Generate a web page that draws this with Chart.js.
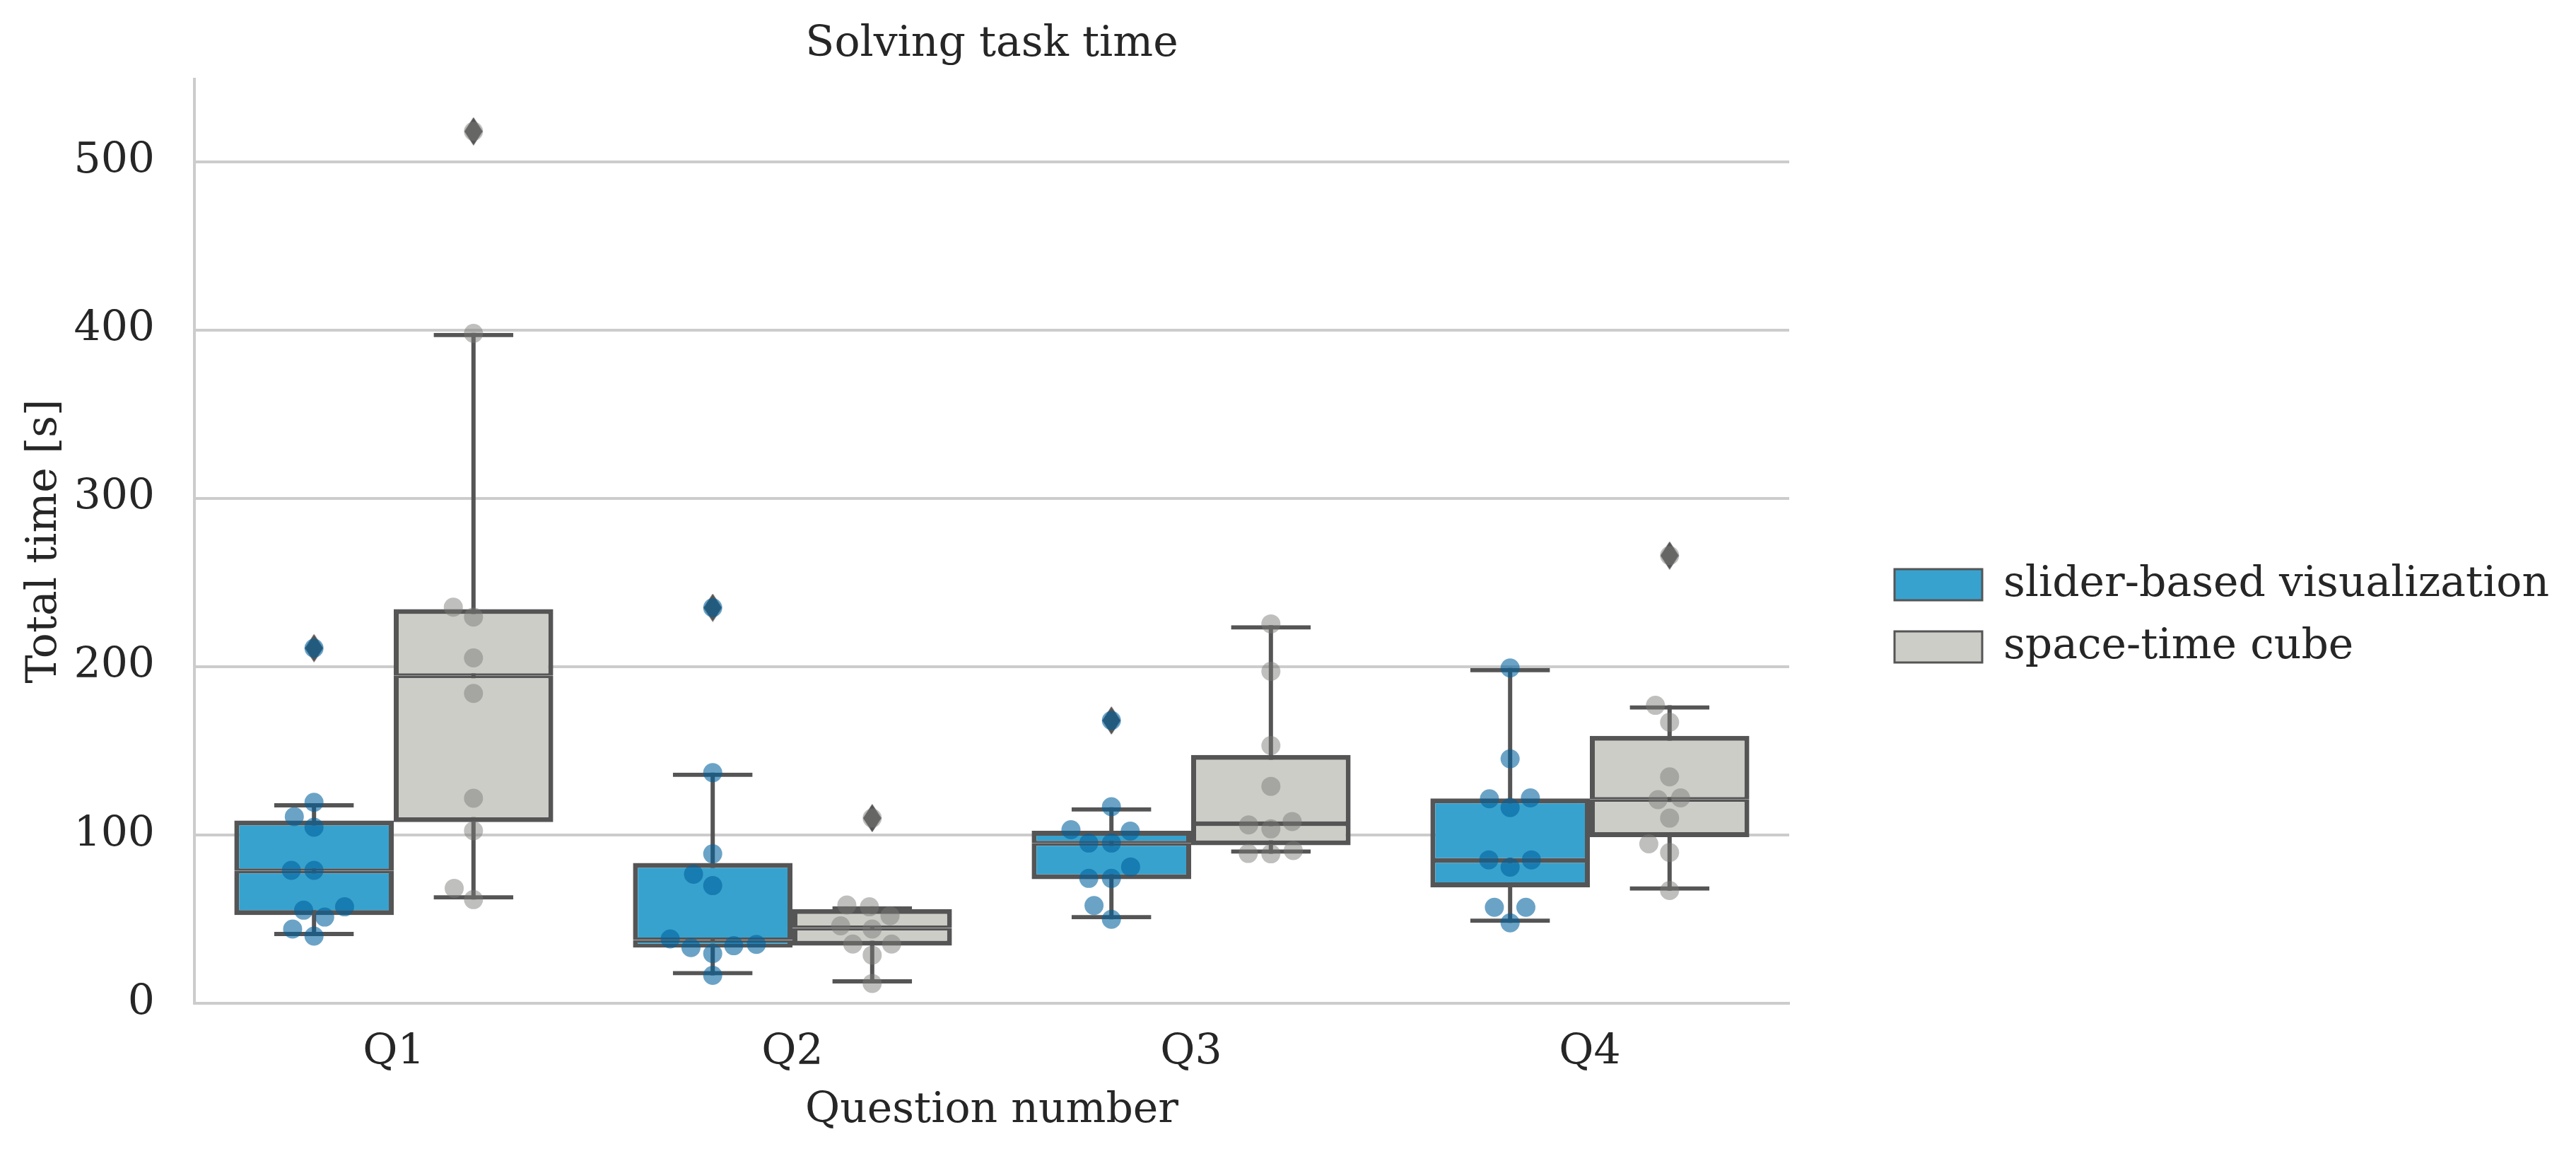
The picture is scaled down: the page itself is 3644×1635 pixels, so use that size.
<!DOCTYPE html>
<html>
<head>
<meta charset="utf-8">
<script src="https://cdn.jsdelivr.net/npm/chart.js@4.4.1/dist/chart.umd.min.js"></script>
<style>
html,body{margin:0;padding:0;background:#ffffff;}
canvas{display:block;}
</style>
</head>
<body>
<canvas id="c" width="3644" height="1635" style="width:3644px;height:1635px"></canvas>
<script>
// ---------------- data ----------------
const categories = ['Q1', 'Q2', 'Q3', 'Q4'];
const seriesNames = ['slider-based visualization', 'space-time cube'];
const chartTitle = 'Solving task time';
const xTitle = 'Question number';
const yTitle = 'Total time [s]';
const yMin = 0;
const yMax = 549;
const yStep = 100;

// slider-based visualization
const sliderQ1 = [52.4, 33.1, 73.7, 68.9];
const sliderMedian = [78.7, 37.6, 95.0, 84.9];
const sliderQ3 = [108.6, 83.4, 102.5, 121.7];
const sliderWhiskerLow = [39.9, 16.6, 49.9, 47.8];
const sliderWhiskerHigh = [118.9, 137.0, 116.5, 199.2];
const sliderOutliers = [[211], [235], [168], []];
const sliderPoints = [
  [119.4, 110.9, 104.6, 79.0, 79.0, 57.3, 55.3, 51.2, 44.1, 39.9, 211],
  [137.0, 88.8, 76.7, 69.9, 38.2, 33.1, 29.5, 34.2, 35.0, 16.6, 235],
  [116.8, 103.1, 102.3, 95.2, 95.2, 81.0, 74.2, 74.2, 58.1, 49.9, 168],
  [199.2, 145.2, 121.5, 122.0, 116.3, 85.2, 85.2, 80.9, 57.0, 57.0, 47.8]
];

// space-time cube
const cubeQ1 = [107.6, 34.2, 93.9, 98.7];
const cubeMedian = [194.6, 44.7, 106.7, 121.1];
const cubeQ3 = [234.2, 56.0, 147.5, 158.9];
const cubeWhiskerLow = [61.6, 11.8, 88.8, 66.9];
const cubeWhiskerHigh = [398.3, 57.6, 224.6, 177.0];
const cubeOutliers = [[518], [110], [], [266]];
const cubePoints = [
  [398.0, 235.3, 229.5, 205.2, 184.1, 121.8, 102.5, 68.3, 61.6, 518],
  [58.4, 57.3, 52.0, 46.0, 44.1, 35.2, 35.2, 28.6, 11.8, 110],
  [225.4, 197.2, 153.1, 128.9, 106.0, 103.6, 108.0, 89.0, 88.8, 90.7],
  [177.0, 167.0, 134.5, 121.0, 122.0, 110.0, 94.7, 89.6, 67.0, 266]
];

// ---------------- style ----------------
const W = 3644, H = 1635;
const FONT = "'DejaVu Serif', 'Liberation Serif', serif";
const FS = 60;
const TEXT = '#262626';
const LINE = '#555555';
const GRID = '#cccccc';
const BOX_SPAN = 0.8;                       // both boxes together span 0.8 of a category
const GROUP_OFF = [-BOX_SPAN / 4, BOX_SPAN / 4];
const LW = 7;
const SWARM_D = 30.5;
const POINT_R = 13.5;
const LEGEND_LEFT = 2652;
const Y_AXIS_W = 275;
const X_AXIS_H = 216;
const PLOT_RIGHT = 2531;

function diamondMarker() {
  const c = document.createElement('canvas');
  c.width = 26; c.height = 40;
  const g = c.getContext('2d');
  g.fillStyle = LINE;
  g.beginPath();
  g.moveTo(13, 0); g.lineTo(26, 20); g.lineTo(13, 40); g.lineTo(0, 20);
  g.closePath(); g.fill();
  return c;
}
const diamond = diamondMarker();

const groups = [
  {name: seriesNames[0], q1: sliderQ1, med: sliderMedian, q3: sliderQ3, lo: sliderWhiskerLow, hi: sliderWhiskerHigh,
   out: sliderOutliers, pts: sliderPoints, fill: '#38a2ce', pc: 'rgba(0,96,156,0.58)'},
  {name: seriesNames[1], q1: cubeQ1, med: cubeMedian, q3: cubeQ3, lo: cubeWhiskerLow, hi: cubeWhiskerHigh,
   out: cubeOutliers, pts: cubePoints, fill: '#cdcdc8', pc: 'rgba(122,122,120,0.48)'}
];

const datasets = [];
groups.forEach((g, gi) => {
  const at = (i) => i + GROUP_OFF[gi];
  const common = {type: 'bar', xAxisID: 'xp', yAxisID: 'y', group: gi, grouped: false,
    categoryPercentage: 1, borderSkipped: false, inflateAmount: 0};
  datasets.push(Object.assign({}, common, {
    label: g.name, role: 'boxLow', order: 3, barPercentage: 1,
    data: categories.map((_, i) => ({x: at(i), y: [g.q1[i], g.med[i]]})),
    backgroundColor: g.fill, borderColor: LINE,
    borderWidth: {top: LW / 2, bottom: LW, left: LW, right: LW}
  }));
  datasets.push(Object.assign({}, common, {
    label: g.name + ' (upper)', role: 'boxHigh', order: 3, barPercentage: 1,
    data: categories.map((_, i) => ({x: at(i), y: [g.med[i], g.q3[i]]})),
    backgroundColor: g.fill, borderColor: LINE,
    borderWidth: {top: LW, bottom: LW / 2, left: LW, right: LW}
  }));
  datasets.push(Object.assign({}, common, {
    label: g.name + ' (whisker)', role: 'whisker', order: 4, barPercentage: 1, maxBarThickness: LW - 1,
    data: categories.map((_, i) => ({x: at(i), y: [g.lo[i], g.hi[i]]})),
    backgroundColor: LINE, borderWidth: 0
  }));
  datasets.push(Object.assign({}, common, {
    label: g.name + ' (caps)', role: 'caps', order: 2, barPercentage: 0.5,
    data: categories.map((_, i) => ({x: at(i), y: [g.lo[i], g.hi[i]]})),
    backgroundColor: 'rgba(0,0,0,0)', borderColor: LINE,
    borderWidth: {top: LW - 1, bottom: LW - 1, left: 0, right: 0}
  }));
});
groups.forEach((g, gi) => {
  const outData = [];
  g.out.forEach((arr, i) => arr.forEach(v => outData.push({x: i + GROUP_OFF[gi], y: v})));
  datasets.push({
    type: 'scatter', label: g.name + ' (outliers)', role: 'outliers', group: gi, order: 1,
    xAxisID: 'xp', yAxisID: 'y', data: outData,
    pointStyle: diamond, pointRadius: 13, pointBorderWidth: 0, showLine: false
  });
});
groups.forEach((g, gi) => {
  datasets.push({
    type: 'scatter', label: g.name + ' (points)', role: 'points', group: gi, order: 0,
    xAxisID: 'xp', yAxisID: 'y', data: [],
    pointRadius: POINT_R, pointBackgroundColor: g.pc, pointBorderWidth: 0, showLine: false
  });
});

const font = {family: FONT, size: FS, weight: 'normal'};

const config = {
  type: 'bar',
  data: {labels: categories, datasets},
  options: {
    responsive: false,
    devicePixelRatio: 1,
    animation: false,
    events: [],
    layout: {padding: {left: 0, top: 0, bottom: 0, right: 0}},
    plugins: {
      tooltip: {enabled: false},
      title: {
        display: true, text: chartTitle, fullSize: false, color: TEXT, font,
        padding: {top: 27, bottom: 13}
      },
      legend: {
        display: true, position: 'right', align: 'start',
        title: {display: true, text: ' ', font: {size: 10}, padding: {top: 757, bottom: 0}},
        labels: {
          font, color: TEXT, boxWidth: 124, boxHeight: 44, padding: 28,
          filter: (item, data) => data.datasets[item.datasetIndex].role === 'boxLow',
          generateLabels: (chart) => Chart.defaults.plugins.legend.labels.generateLabels(chart)
            .map(l => Object.assign(l, {lineWidth: 3, strokeStyle: LINE}))
        }
      }
    },
    scales: {
      x: {
        type: 'category', position: 'bottom', offset: true,
        grid: {display: false, drawTicks: false},
        border: {display: true, color: GRID, width: 4},
        ticks: {color: TEXT, font, padding: 34},
        title: {display: true, text: xTitle, color: TEXT, font, padding: {top: 0, bottom: 28}},
        afterFit: (s) => { s.height = X_AXIS_H; }
      },
      xp: {
        type: 'linear', position: 'bottom', display: true, offset: false,
        min: -0.5, max: categories.length - 0.5,
        grid: {display: false, offset: false, drawTicks: false}, border: {display: false},
        ticks: {display: false},
        afterBuildTicks: (s) => { s.ticks = []; },
        afterFit: (s) => { s.height = 0; }
      },
      y: {
        type: 'linear', position: 'left', min: yMin, max: yMax, stacked: false,
        grid: {color: GRID, lineWidth: 4, drawTicks: false},
        border: {display: true, color: GRID, width: 4},
        ticks: {stepSize: yStep, includeBounds: false, color: TEXT, font, padding: 56},
        title: {display: true, text: yTitle, color: TEXT, font, padding: {top: 27, bottom: 0}},
        afterFit: (s) => { s.width = Y_AXIS_W; }
      },
      y2: {
        type: 'linear', position: 'right', display: true,
        grid: {display: false}, border: {display: false}, ticks: {display: false},
        afterFit: (s) => { s.width = LEGEND_LEFT - PLOT_RIGHT; }
      }
    }
  }
};

const chart = new Chart(document.getElementById('c').getContext('2d'), config);

// the legend box runs from LEGEND_LEFT to the right edge of the canvas
chart.legend.fit = (function (orig) {
  return function () { orig.call(this); this.width = W - LEGEND_LEFT; };
})(chart.legend.fit);
chart.update('none');

// beeswarm layout (in pixels) so that points do not overlap, like a swarm plot
function swarmOffsets(values, yScale, d) {
  const order = values.map((v, i) => i).sort((a, b) => values[a] - values[b]);
  const placed = [];
  const out = new Array(values.length);
  for (const i of order) {
    const y = -yScale.getPixelForValue(values[i]);
    const nb = placed.filter(p => Math.abs(y - p.y) < d);
    const cands = [0];
    let leftFirst = true;
    for (const p of nb) {
      const dy = y - p.y;
      const dx = Math.sqrt(Math.max(d * d - dy * dy, 0)) * 1.05;
      if (leftFirst) cands.push(p.x - dx, p.x + dx); else cands.push(p.x + dx, p.x - dx);
      leftFirst = !leftFirst;
    }
    const sorted = cands.map((c, k) => ({c, k}))
      .sort((a, b) => (Math.abs(a.c) - Math.abs(b.c)) || (a.k - b.k)).map(o => o.c);
    let chosen = sorted[sorted.length - 1];
    for (const c of sorted) {
      if (nb.every(p => Math.hypot(c - p.x, y - p.y) >= d - 1e-6)) { chosen = c; break; }
    }
    placed.push({x: chosen, y});
    out[i] = chosen;
  }
  return out;
}

function applySwarm() {
  const ys = chart.scales.y, xs = chart.scales.xp;
  const pxPerUnit = xs.getPixelForValue(1) - xs.getPixelForValue(0);
  groups.forEach((g, gi) => {
    const ds = chart.data.datasets.find(d => d.role === 'points' && d.group === gi);
    const data = [];
    categories.forEach((c, i) => {
      const vals = g.pts[i];
      const offs = swarmOffsets(vals, ys, SWARM_D);
      vals.forEach((v, k) => data.push({x: i + GROUP_OFF[gi] + offs[k] / pxPerUnit, y: v}));
    });
    ds.data = data;
  });
  chart.update('none');
}
applySwarm();
</script>
</body>
</html>
